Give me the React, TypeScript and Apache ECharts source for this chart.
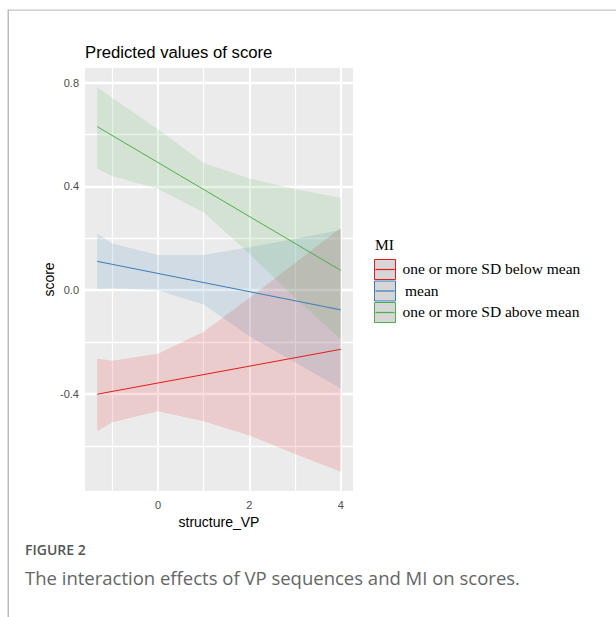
import React, { useEffect, useRef } from "react";
import * as echarts from "echarts";

// x positions at which the confidence bands were read
const bandX = [-1.33, -1, 0, 1, 2, 3, 4];
// end points of the straight prediction lines
const lineX = [-1.33, 4];

const groups = ["one or more SD below mean", "mean", "one or more SD above mean"];
const colors = ["#E41A1C", "#377EB8", "#4DAF4A"];

const belowLine = [-0.401, -0.228];
const belowLower = [-0.544, -0.509, -0.467, -0.505, -0.56, -0.631, -0.7];
const belowUpper = [-0.263, -0.272, -0.245, -0.16, -0.03, 0.105, 0.24];

const meanLine = [0.111, -0.076];
const meanLower = [0.004, 0.006, 0.0, -0.055, -0.178, -0.279, -0.379];
const meanUpper = [0.218, 0.18, 0.135, 0.135, 0.165, 0.198, 0.232];

const aboveLine = [0.63, 0.076];
const aboveLower = [0.468, 0.44, 0.39, 0.3, 0.14, -0.03, -0.19];
const aboveUpper = [0.782, 0.74, 0.62, 0.49, 0.43, 0.39, 0.355];

const xTicks = [0, 2, 4];
const xMinor = [-1, 1, 3];
const yTicks = [-0.4, 0, 0.4, 0.8];
const yMinor = [-0.6, -0.2, 0.2, 0.6];

const X_MIN = -1.597;
const X_MAX = 4.267;
const Y_MIN = -0.774;
const Y_MAX = 0.856;

function hexToRgba(hex: string, a: number) {
  const r = parseInt(hex.slice(1, 3), 16);
  const g = parseInt(hex.slice(3, 5), 16);
  const b = parseInt(hex.slice(5, 7), 16);
  return `rgba(${r},${g},${b},${a})`;
}

function bandSeries(name: string, lower: number[], upper: number[], color: string) {
  return {
    type: "custom",
    name,
    z: 6,
    silent: true,
    clip: true,
    data: bandX.map((x, i) => [x, lower[i], upper[i]]),
    encode: { x: 0, y: [1, 2] },
    renderItem: (params: any, api: any) => {
      if (params.dataIndex !== 0) return null;
      const top = bandX.map((x, i) => api.coord([x, upper[i]]));
      const bot = bandX.map((x, i) => api.coord([x, lower[i]])).reverse();
      return {
        type: "polygon",
        shape: { points: top.concat(bot) },
        style: { fill: hexToRgba(color, 0.15), stroke: "none" },
      };
    },
  };
}

function lineSeries(name: string, vals: number[], color: string) {
  return {
    type: "line",
    name,
    z: 7,
    silent: true,
    symbol: "none",
    data: lineX.map((x, i) => [x, vals[i]]),
    lineStyle: { color, width: 1 },
    itemStyle: { color },
  };
}

// panel grid lines as mark lines placed on the axis scales
const gridData = [
  ...xMinor.map((v) => ({ xAxis: v, lineStyle: { width: 1.2 } })),
  ...yMinor.map((v) => ({ yAxis: v, lineStyle: { width: 1.3 } })),
  ...xTicks.map((v) => ({ xAxis: v, lineStyle: { width: 2 } })),
  ...yTicks.map((v) => ({ yAxis: v, lineStyle: { width: 2.4 } })),
];

const gridSeries = {
  type: "line",
  name: "panel-grid",
  z: 2,
  silent: true,
  symbol: "none",
  data: [
    [X_MIN, Y_MIN],
    [X_MAX, Y_MAX],
  ],
  lineStyle: { opacity: 0 },
  markLine: {
    silent: true,
    z: 2,
    symbol: ["none", "none"],
    label: { show: false },
    lineStyle: { color: "#FFFFFF", type: "solid", opacity: 1 },
    emphasis: { disabled: true },
    data: gridData,
  },
};

const legendItems: any[] = [];
legendItems.push({
  type: "text",
  x: 375,
  y: 244,
  style: { text: "MI", fill: "#000", font: '15.5px "Liberation Serif"', align: "left", verticalAlign: "middle" },
});
groups.forEach((g, i) => {
  const top = 259.5 + i * 21.5;
  const cy = top + 10;
  legendItems.push({
    type: "rect",
    shape: { x: 374.5, y: top, width: 21, height: 20 },
    style: { fill: "#D6D6D6", stroke: colors[i], lineWidth: 1 },
  });
  legendItems.push({
    type: "rect",
    shape: { x: 375.5, y: cy - 0.6, width: 19, height: 1.2 },
    style: { fill: colors[i] },
  });
  legendItems.push({
    type: "text",
    x: i === 1 ? 405 : 402.5,
    y: cy - 1,
    style: { text: g, fill: "#000", font: '15.5px "Liberation Serif"', align: "left", verticalAlign: "middle" },
  });
});

export default function App() {
  const ref = useRef<HTMLDivElement>(null);
  useEffect(() => {
    const chart = echarts.init(ref.current as HTMLDivElement, null, { renderer: "svg" });
    const option: any = {
      animation: false,
      backgroundColor: "#FFFFFF",
      title: {
        text: "Predicted values of score",
        left: 80,
        top: 39,
        textStyle: { fontSize: 16.7, fontWeight: "normal", fontFamily: "Liberation Sans", color: "#000" },
      },
      grid: {
        left: 85,
        right: 263,
        top: 68,
        bottom: 126,
        show: true,
        z: 0,
        backgroundColor: "#EBEBEB",
        borderWidth: 0,
      },
      xAxis: {
        type: "value",
        min: X_MIN,
        max: X_MAX,
        axisLine: { show: false },
        axisTick: { show: true, length: 4, customValues: xTicks, lineStyle: { color: "#333333" } },
        axisLabel: {
          customValues: xTicks,
          formatter: (v: number) => String(v),
          color: "#4D4D4D",
          fontSize: 11,
          fontFamily: "Liberation Sans",
          margin: 8,
        },
        splitLine: { show: false },
        name: "structure_VP",
        nameLocation: "middle",
        nameGap: 23,
        nameTextStyle: { fontSize: 14, fontFamily: "Liberation Sans", color: "#000" },
      },
      yAxis: {
        type: "value",
        min: Y_MIN,
        max: Y_MAX,
        axisLine: { show: false },
        axisTick: { show: true, length: 4, customValues: yTicks, lineStyle: { color: "#333333" } },
        axisLabel: {
          customValues: yTicks,
          formatter: (v: number) => v.toFixed(1),
          color: "#4D4D4D",
          fontSize: 11,
          fontFamily: "Liberation Sans",
          margin: 6,
        },
        splitLine: { show: false },
        name: "score",
        nameLocation: "middle",
        nameGap: 28,
        nameTextStyle: { fontSize: 14, fontFamily: "Liberation Sans", color: "#000" },
      },
      graphic: [
        { type: "rect", shape: { x: 8, y: 9.5, width: 608, height: 1.2 }, style: { fill: "#C4C4C4" } },
        { type: "rect", shape: { x: 7.5, y: 9.5, width: 1.5, height: 608 }, style: { fill: "#BBBBBB" } },
        ...legendItems,
        {
          type: "text",
          x: 25,
          y: 549,
          style: { text: "FIGURE 2", fill: "#555555", font: '600 14px "Open Sans"', align: "left", verticalAlign: "middle" },
        },
        {
          type: "text",
          x: 25,
          y: 577,
          style: {
            text: "The interaction effects of VP sequences and MI on scores.",
            fill: "#666666",
            font: '18.5px "Open Sans"',
            align: "left",
            verticalAlign: "middle",
          },
        },
      ],
      series: [
        gridSeries,
        bandSeries(groups[0], belowLower, belowUpper, colors[0]),
        bandSeries(groups[1], meanLower, meanUpper, colors[1]),
        bandSeries(groups[2], aboveLower, aboveUpper, colors[2]),
        lineSeries(groups[0], belowLine, colors[0]),
        lineSeries(groups[1], meanLine, colors[1]),
        lineSeries(groups[2], aboveLine, colors[2]),
      ],
    };
    chart.setOption(option);
    return () => chart.dispose();
  }, []);
  return <div ref={ref} style={{ position: "absolute", left: 0, top: 0, width: 616, height: 617 }} />;
}
